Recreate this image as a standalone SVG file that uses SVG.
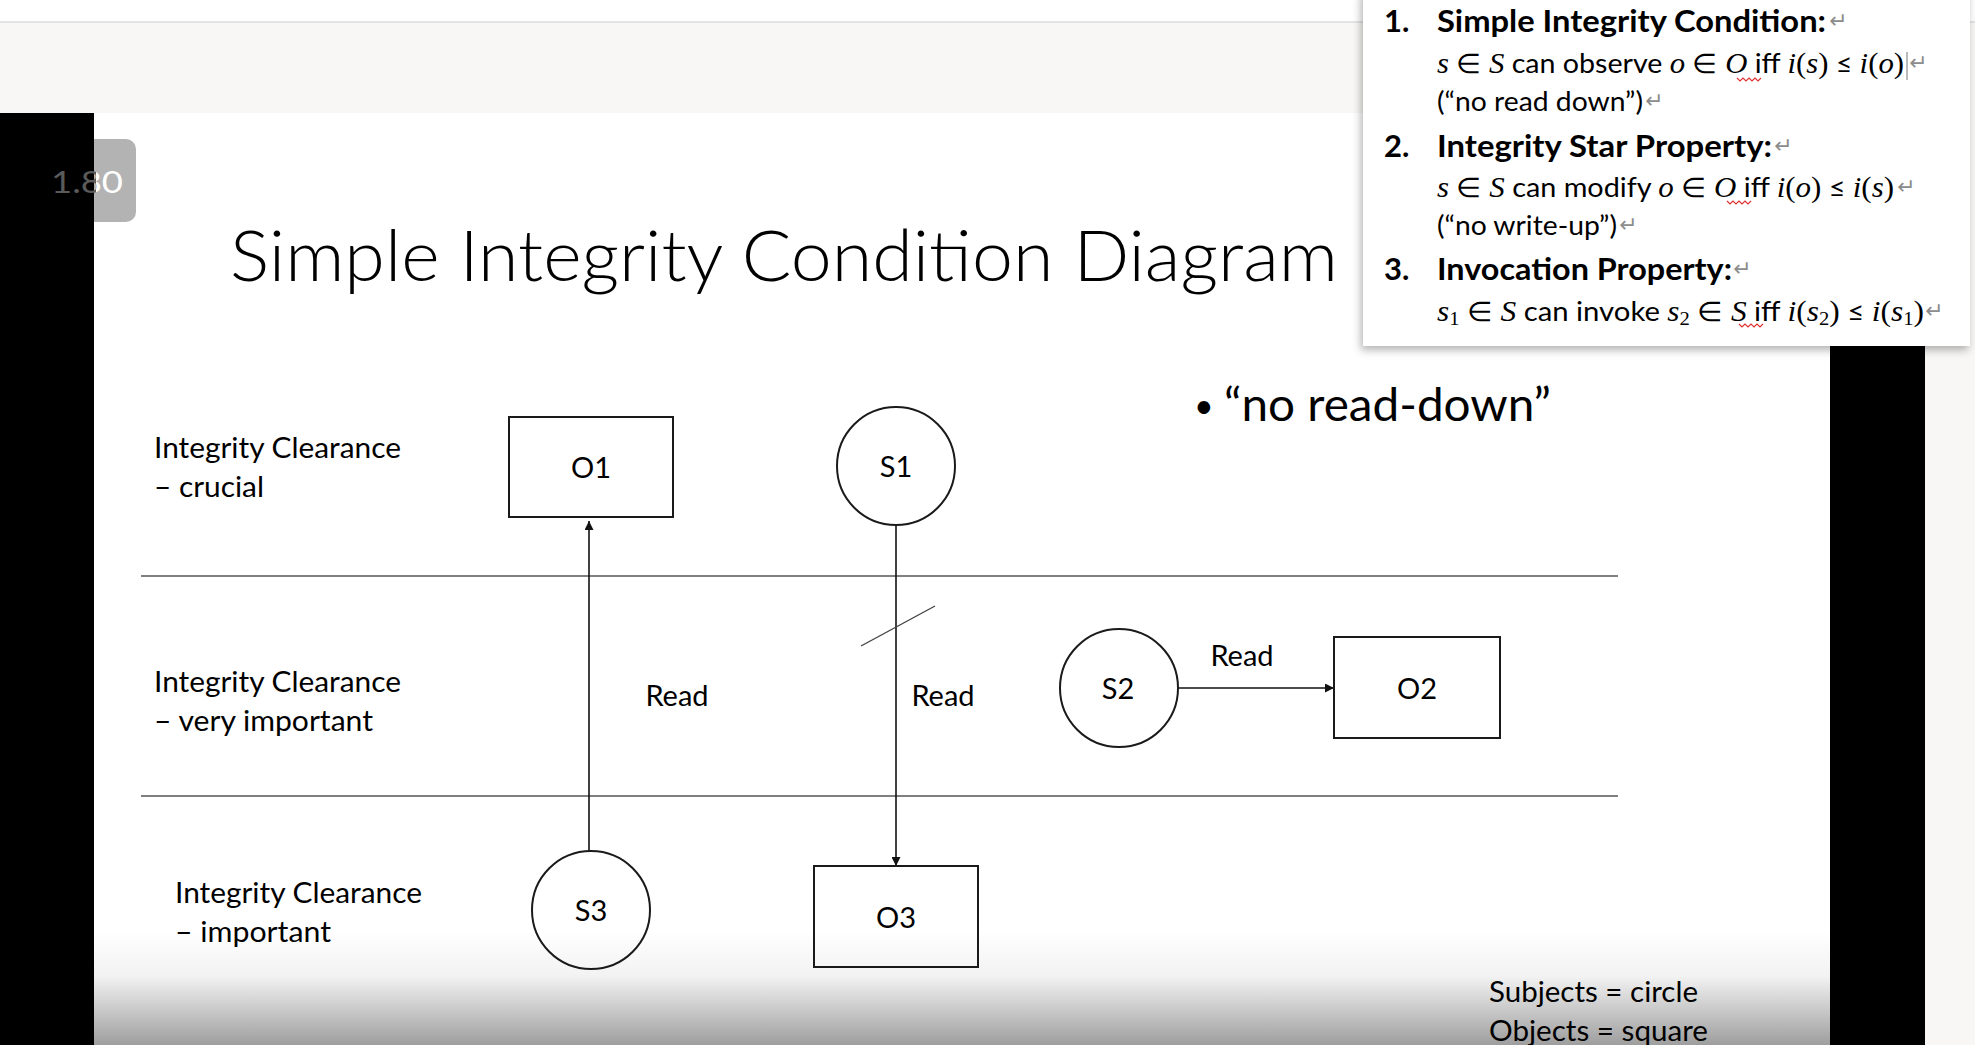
<svg xmlns="http://www.w3.org/2000/svg" width="1975" height="1045" viewBox="0 0 1975 1045">
<defs>
<style>
.s{font-family:Lato,"Liberation Sans",sans-serif;fill:#000}
.lab{font-size:29px}
.ctr{text-anchor:middle}
.node{fill:#fff;stroke:#1a1a1a;stroke-width:2}
.sep{stroke:#7f7f7f;stroke-width:2}
.con{stroke:#111;stroke-width:1.6;fill:none}
.pb{font-family:Lato,"Liberation Sans",sans-serif;font-weight:700;font-size:31px;fill:#000}
.pt{font-family:Lato,"Liberation Sans",sans-serif;font-size:27px;fill:#000}
.m{font-family:"Liberation Serif","DejaVu Serif",serif;font-style:italic;font-size:29px}
.u{font-family:"Liberation Serif","DejaVu Serif",serif;font-size:29px}
.sub{font-family:"Liberation Serif","DejaVu Serif",serif;font-size:19px}
.ret{font-family:"DejaVu Sans",sans-serif;font-size:22px;fill:#8c8c8c}
.sq{fill:none;stroke:#e03030;stroke-width:1.2}
</style>
<marker id="ah" viewBox="0 0 10 10" refX="10" refY="5" markerWidth="10" markerHeight="9" markerUnits="userSpaceOnUse" orient="auto"><path d="M0,0 L10,5 L0,10 z" fill="#111"/></marker>
<linearGradient id="shade" x1="0" y1="0" x2="0" y2="1">
<stop offset="0" stop-color="#000" stop-opacity="0"/>
<stop offset="0.4" stop-color="#000" stop-opacity="0.05"/>
<stop offset="1" stop-color="#000" stop-opacity="0.38"/>
</linearGradient>
<filter id="sh" x="-5%" y="-5%" width="110%" height="115%"><feDropShadow dx="-2" dy="4" stdDeviation="4" flood-color="#000" flood-opacity="0.3"/></filter>
<clipPath id="cl"><rect x="0" y="130" width="96" height="100"/></clipPath>
<clipPath id="cr"><rect x="96" y="130" width="60" height="100"/></clipPath>
</defs>

<g id="background">
<rect x="0" y="0" width="1975" height="1045" fill="#f8f7f6"/>
<rect x="0" y="0" width="1975" height="21" fill="#fff"/>
<line x1="0" y1="22" x2="1975" y2="22" stroke="#e4e4e4" stroke-width="2"/>
<rect x="94" y="113" width="1736" height="932" fill="#fff"/>
<rect x="70" y="139" width="66" height="83" rx="10" fill="#b3b3b3"/>
<rect x="0" y="113" width="94" height="932" fill="#000"/>
<rect x="1830" y="113" width="95" height="932" fill="#000"/>
<text class="s" x="51" y="193" font-size="31" textLength="72" lengthAdjust="spacingAndGlyphs" style="fill:#5a5a5a" clip-path="url(#cl)">1.80</text>
<text class="s" x="51" y="193" font-size="31" textLength="72" lengthAdjust="spacingAndGlyphs" style="fill:#fff" clip-path="url(#cr)">1.80</text>
</g>

<text id="title" class="s" x="230" y="281" font-size="70" font-weight="300" textLength="1108" lengthAdjust="spacingAndGlyphs">Simple Integrity Condition Diagram</text>

<g id="lanes">
<line class="sep" x1="141" y1="576" x2="1618" y2="576"/>
<line class="sep" x1="141" y1="796" x2="1618" y2="796"/>
<text class="s lab" x="154" y="458" textLength="247" lengthAdjust="spacingAndGlyphs">Integrity Clearance</text>
<text class="s lab" x="154" y="497" textLength="110" lengthAdjust="spacingAndGlyphs">– crucial</text>
<text class="s lab" x="154" y="692" textLength="247" lengthAdjust="spacingAndGlyphs">Integrity Clearance</text>
<text class="s lab" x="154" y="731" textLength="219" lengthAdjust="spacingAndGlyphs">– very important</text>
<text class="s lab" x="175" y="903" textLength="247" lengthAdjust="spacingAndGlyphs">Integrity Clearance</text>
<text class="s lab" x="175" y="942" textLength="156" lengthAdjust="spacingAndGlyphs">– important</text>
</g>

<g id="connectors">
<line class="con" x1="589" y1="851" x2="589" y2="521" marker-end="url(#ah)"/>
<line class="con" x1="896" y1="525" x2="896" y2="866" marker-end="url(#ah)"/>
<line class="con" x1="1178" y1="688" x2="1334" y2="688" marker-end="url(#ah)"/>
<line x1="861" y1="646" x2="935" y2="606" stroke="#444" stroke-width="1.4"/>
<text class="s lab ctr" x="677" y="706">Read</text>
<text class="s lab ctr" x="943" y="706">Read</text>
<text class="s lab ctr" x="1242" y="666">Read</text>
</g>

<g id="O1"><rect class="node" x="509" y="417" width="164" height="100"/><text class="s lab ctr" x="591" y="478">O1</text></g>
<g id="S1"><circle class="node" cx="896" cy="466" r="59"/><text class="s lab ctr" x="896" y="477">S1</text></g>
<g id="S2"><circle class="node" cx="1119" cy="688" r="59"/><text class="s lab ctr" x="1118" y="699">S2</text></g>
<g id="O2"><rect class="node" x="1334" y="637" width="166" height="101"/><text class="s lab ctr" x="1417" y="699">O2</text></g>
<g id="S3"><circle class="node" cx="591" cy="910" r="59"/><text class="s lab ctr" x="591" y="921">S3</text></g>
<g id="O3"><rect class="node" x="814" y="866" width="164" height="101"/><text class="s lab ctr" x="896" y="928">O3</text></g>

<g id="notes">
<text class="s" x="1194" y="418" font-size="34">•</text>
<text class="s" x="1224" y="421" font-size="46" textLength="327" lengthAdjust="spacingAndGlyphs">“no read-down”</text>
<text class="s lab" x="1489" y="1002" textLength="209" lengthAdjust="spacingAndGlyphs">Subjects = circle</text>
<text class="s lab" x="1489" y="1041" textLength="219" lengthAdjust="spacingAndGlyphs">Objects = square</text>
</g>

<rect id="bottom-shade" x="94" y="930" width="1736" height="115" fill="url(#shade)"/>

<g id="popup">
<rect x="1363" y="-10" width="607" height="356" fill="#fff" filter="url(#sh)"/>
<text class="pb" x="1384" y="32">1.</text>
<text class="pb" x="1437" y="32" textLength="389" lengthAdjust="spacingAndGlyphs">Simple Integrity Condition:</text>
<text class="ret" x="1829" y="28">↵</text>
<text class="pt" x="1437" y="73" textLength="467" lengthAdjust="spacingAndGlyphs"><tspan class="m">s</tspan> ∈ <tspan class="m">S</tspan> can observe <tspan class="m">o</tspan> ∈ <tspan class="m">O</tspan> iff <tspan class="m">i</tspan><tspan class="u">(</tspan><tspan class="m">s</tspan><tspan class="u">)</tspan> ≤ <tspan class="m">i</tspan><tspan class="u">(</tspan><tspan class="m">o</tspan><tspan class="u">)</tspan></text>
<line x1="1907" y1="52" x2="1907" y2="80" stroke="#777" stroke-width="1"/>
<text class="ret" x="1909" y="70">↵</text>
<path class="sq" d="M1737,78 l3,3 3,-3 3,3 3,-3 3,3 3,-3 3,3 3,-3"/>
<text class="pt" x="1437" y="111" textLength="206" lengthAdjust="spacingAndGlyphs">(“no read down”)</text>
<text class="ret" x="1645" y="108">↵</text>

<text class="pb" x="1384" y="157">2.</text>
<text class="pb" x="1437" y="157" textLength="335" lengthAdjust="spacingAndGlyphs">Integrity Star Property:</text>
<text class="ret" x="1774" y="153">↵</text>
<text class="pt" x="1437" y="197" textLength="457" lengthAdjust="spacingAndGlyphs"><tspan class="m">s</tspan> ∈ <tspan class="m">S</tspan> can modify <tspan class="m">o</tspan> ∈ <tspan class="m">O</tspan> iff <tspan class="m">i</tspan><tspan class="u">(</tspan><tspan class="m">o</tspan><tspan class="u">)</tspan> ≤ <tspan class="m">i</tspan><tspan class="u">(</tspan><tspan class="m">s</tspan><tspan class="u">)</tspan></text>
<text class="ret" x="1897" y="194">↵</text>
<path class="sq" d="M1727,201 l3,3 3,-3 3,3 3,-3 3,3 3,-3 3,3 3,-3"/>
<text class="pt" x="1437" y="235" textLength="180" lengthAdjust="spacingAndGlyphs">(“no write-up”)</text>
<text class="ret" x="1619" y="232">↵</text>

<text class="pb" x="1384" y="280">3.</text>
<text class="pb" x="1437" y="280" textLength="295" lengthAdjust="spacingAndGlyphs">Invocation Property:</text>
<text class="ret" x="1733" y="276">↵</text>
<text class="pt" x="1437" y="321" textLength="487" lengthAdjust="spacingAndGlyphs"><tspan class="m">s</tspan><tspan class="sub" baseline-shift="-4">1</tspan> ∈ <tspan class="m">S</tspan> can invoke <tspan class="m">s</tspan><tspan class="sub" baseline-shift="-4">2</tspan> ∈ <tspan class="m">S</tspan> iff <tspan class="m">i</tspan><tspan class="u">(</tspan><tspan class="m">s</tspan><tspan class="sub" baseline-shift="-4">2</tspan><tspan class="u">)</tspan> ≤ <tspan class="m">i</tspan><tspan class="u">(</tspan><tspan class="m">s</tspan><tspan class="sub" baseline-shift="-4">1</tspan><tspan class="u">)</tspan></text>
<text class="ret" x="1925" y="318">↵</text>
<path class="sq" d="M1739,324 l3,3 3,-3 3,3 3,-3 3,3 3,-3 3,3 3,-3"/>
</g>
</svg>
